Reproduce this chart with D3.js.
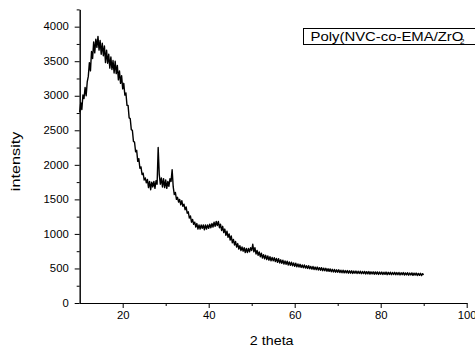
<!DOCTYPE html>
<html>
<head>
<meta charset="utf-8">
<script src="https://cdn.jsdelivr.net/npm/d3@7"></script>
<style>
    body { margin: 0; background: #fff; }
    text { font-family: "Liberation Sans", Arial, sans-serif; fill: #000; }
</style>
</head>
<body>
<script>
// XRD scan of Poly(NVC-co-EMA/ZrO2).
// one value every thetaStep degrees starting at thetaStart
var thetaStart = 10,
    thetaStep = 0.25;

var intensity = [
    2760, 2900, 2800, 3010,   // 10
    2960, 3120, 3000, 3200,   // 11
    3280, 3480, 3360, 3640,   // 12
    3540, 3780, 3620, 3820,   // 13
    3700, 3860, 3660, 3800,   // 14
    3600, 3760, 3580, 3720,   // 15
    3480, 3660, 3470, 3600,   // 16
    3400, 3560, 3380, 3510,   // 17
    3330, 3500, 3320, 3440,   // 18
    3230, 3360, 3180, 3290,   // 19
    3100, 3180, 3010, 3040,   // 20
    2860, 2860, 2680, 2670,   // 21
    2510, 2500, 2340, 2330,   // 22
    2190, 2210, 2050, 2090,   // 23
    1950, 1970, 1860, 1880,   // 24
    1780, 1810, 1740, 1790,   // 25
    1670, 1760, 1640, 1750,   // 26
    1680, 1760, 1660, 1770,   // 27
    1720, 2250, 1860, 1720,   // 28
    1810, 1680, 1800, 1670,   // 29
    1780, 1660, 1760, 1690,   // 30
    1800, 1760, 1930, 1680,   // 31
    1570, 1600, 1500, 1530,   // 32
    1460, 1500, 1420, 1480,   // 33
    1400, 1430, 1350, 1390,   // 34
    1300, 1320, 1230, 1260,   // 35
    1170, 1210, 1140, 1170,   // 36
    1100, 1150, 1070, 1130,   // 37
    1070, 1130, 1080, 1130,   // 38
    1060, 1130, 1070, 1130,   // 39
    1080, 1140, 1090, 1150,   // 40
    1100, 1170, 1110, 1180,   // 41
    1120, 1180, 1090, 1140,   // 42
    1050, 1110, 1020, 1070,   // 43
     980, 1040,  950, 1000,   // 44
     910,  970,  870,  920,   // 45
     840,  890,  810,  860,   // 46
     780,  830,  760,  810,   // 47
     750,  800,  730,  790,   // 48
     730,  790,  740,  800,   // 49
     760,  850,  740,  800,   // 50
     710,  760,  690,  740,   // 51
     670,  720,  650,  700,   // 52
     640,  690,  630,  680,   // 53
     620,  670,  610,  660,   // 54
     610,  655,  600,  645,   // 55
     590,  640,  580,  625,   // 56
     575,  620,  565,  610,   // 57
     560,  605,  550,  595,   // 58
     545,  590,  540,  580,   // 59
     530,  575,  525,  565,   // 60
     520,  560,  515,  550,   // 61
     510,  550,  505,  540,   // 62
     500,  540,  495,  530,   // 63
     490,  530,  485,  520,   // 64
     482,  520,  478,  512,   // 65
     474,  512,  468,  505,   // 66
     466,  502,  460,  496,   // 67
     458,  494,  452,  488,   // 68
     450,  486,  446,  480,   // 69
     444,  480,  440,  474,   // 70
     438,  474,  436,  470,   // 71
     436,  470,  432,  466,   // 72
     432,  466,  428,  462,   // 73
     430,  462,  426,  460,   // 74
     428,  460,  424,  456,   // 75
     425,  458,  420,  454,   // 76
     422,  455,  418,  452,   // 77
     420,  452,  416,  450,   // 78
     418,  450,  414,  448,   // 79
     416,  448,  412,  446,   // 80
     415,  448,  410,  444,   // 81
     414,  446,  410,  442,   // 82
     412,  444,  408,  440,   // 83
     410,  442,  406,  438,   // 84
     410,  440,  404,  436,   // 85
     408,  438,  402,  434,   // 86
     406,  436,  400,  432,   // 87
     404,  434,  398,  428,   // 88
     400,  430,  396,  424,   // 89
     410                      // 90
];

var xMajor = [20, 40, 60, 80, 100],
    xMinor = [30, 50, 70, 90],
    yMajor = [0, 500, 1000, 1500, 2000, 2500, 3000, 3500, 4000],
    yMinor = [250, 750, 1250, 1750, 2250, 2750, 3250, 3750, 4250];

var seriesName = "Poly(NVC-co-EMA/ZrO",
    seriesSub = "2";

var margin = {top: 9.4, right: 8.3, bottom: 44, left: 79.7},
    width = 475 - margin.left - margin.right,
    height = 347 - margin.top - margin.bottom;

var svg = d3.select("body").append("svg")
    .attr("width", 475)
    .attr("height", 347);

var g = svg.append("g")
    .attr("transform", "translate(" + margin.left + "," + margin.top + ")");

var xScale = d3.scaleLinear().domain([10, 100]).range([0, width]);
var yScale = d3.scaleLinear().domain([0, 4250]).range([height, 0]);

// stretch text sideways a bit, the picture's labels are wider than the font
function stretch(sel, sx) {
    sel.each(function() {
        var w = this.getComputedTextLength();
        d3.select(this)
            .attr("textLength", w * sx)
            .attr("lengthAdjust", "spacingAndGlyphs");
    });
}

// minor ticks first, no labels
g.append("g")
    .attr("transform", "translate(0," + height + ")")
    .call(d3.axisBottom(xScale).tickValues(xMinor).tickSize(3)
        .tickSizeOuter(0).tickFormat(""));
g.append("g")
    .call(d3.axisLeft(yScale).tickValues(yMinor).tickSize(3)
        .tickSizeOuter(0).tickFormat(""));

var xAxis = g.append("g")
    .attr("transform", "translate(0," + height + ")")
    .call(d3.axisBottom(xScale).tickValues(xMajor).tickSize(5)
        .tickSizeOuter(0).tickPadding(4).tickFormat(d3.format("d")));
var yAxis = g.append("g")
    .call(d3.axisLeft(yScale).tickValues(yMajor).tickSize(5)
        .tickSizeOuter(0).tickPadding(6).tickFormat(d3.format("d")));

svg.selectAll(".tick text")
    .attr("font-family", "Liberation Sans, Arial, sans-serif")
    .attr("font-size", 10);
svg.selectAll(".domain, .tick line").attr("stroke", "#000");
stretch(xAxis.selectAll(".tick text"), 1.13);
stretch(yAxis.selectAll(".tick text"), 1.13);

// the scan itself
var line = d3.line()
    .x(function(d, i) { return xScale(thetaStart + i * thetaStep); })
    .y(function(d) { return yScale(d); });

g.append("path")
    .datum(intensity)
    .attr("fill", "none")
    .attr("stroke", "#000")
    .attr("stroke-width", 1.4)
    .attr("stroke-linejoin", "round")
    .attr("d", line);

// axis titles
var xt = svg.append("text")
    .attr("x", margin.left + width / 2 - 1.5)
    .attr("y", 345)
    .attr("text-anchor", "middle")
    .attr("font-size", 13.5)
    .text("2 theta");
stretch(xt, 1.06);

var yt = svg.append("text")
    .attr("transform", "translate(19.5,161.4) rotate(-90)")
    .attr("text-anchor", "middle")
    .attr("font-size", 12.5)
    .text("intensity");
stretch(yt, 1.3);

// legend box, runs off the right edge
svg.append("rect")
    .attr("x", 303.5)
    .attr("y", 28.5)
    .attr("width", 220)
    .attr("height", 16)
    .attr("fill", "#fff")
    .attr("stroke", "#000");

var lt = svg.append("text")
    .attr("x", 310.5)
    .attr("y", 40.7)
    .attr("font-size", 12.5)
    .text(seriesName);
stretch(lt, 1.19);

svg.append("text")
    .attr("x", 460)
    .attr("y", 43.6)
    .attr("font-size", 8)
    .text(seriesSub);
</script>
</body>
</html>
